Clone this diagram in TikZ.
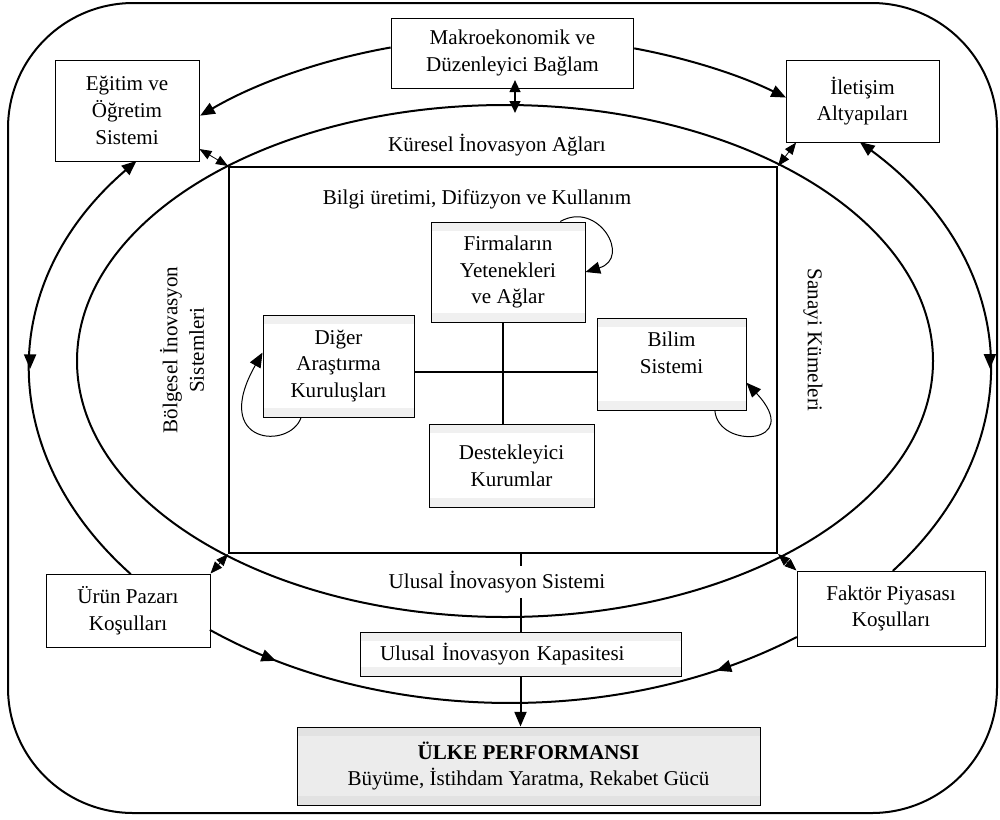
\documentclass[tikz,border=0pt]{standalone}
\usepackage{fontspec}
\setmainfont{Liberation Serif}
\usetikzlibrary{arrows.meta,decorations.markings}
\definecolor{bandgray}{HTML}{F0F0F0}
\definecolor{ulkegray}{HTML}{ECECEC}
\definecolor{ulkeband}{HTML}{E2E2E2}
\tikzset{every picture/.style={line width=0.75pt}}
\tikzset{
  >={Triangle[length=11pt,width=9pt]},
  txt/.style={font=\fontsize{15.8}{20}\selectfont, align=center, inner sep=0.75pt},
  box/.style={txt, draw, fill=white},
  bands/.style={path picture={
      \fill[#1] ([yshift=6.5pt]path picture bounding box.north west) rectangle ([yshift=-6.5pt]path picture bounding box.north east);
      \fill[#1] ([yshift=6.5pt]path picture bounding box.south west) rectangle ([yshift=-6.5pt]path picture bounding box.south east);}},
  inbox/.style={box, bands=bandgray},
  ring/.style={line width=1.5pt},
  link/.style={line width=0.6pt, arrows={Triangle[length=9pt,width=7pt]-Triangle[length=9pt,width=7pt]}},
  midarrow/.style={postaction={decorate, decoration={markings, mark=at position #1 with {\arrow{>}}}}},
  midarrowback/.style={postaction={decorate, decoration={markings, mark=at position #1 with {\arrowreversed{>}}}}},
}

\begin{document}
\begin{tikzpicture}[x=0.75pt,y=0.75pt,yscale=-1,xscale=1]
\useasboundingbox (0,0) rectangle (1000,819);

%Outer frame
\draw[ring, rounded corners=94pt] (8,3) rectangle (997,813);
%Inner ring
\draw[ring] (505,361) ellipse [x radius=428, y radius=256];

%Outer boxes
\node[box, minimum width=182pt, minimum height=52.5pt] (makro) at (512.5,53) {Makroekonomik ve\\Düzenleyici Bağlam};
\node[box, minimum width=108pt, minimum height=75.75pt] (egitim) at (127,110.5) {Eğitim ve\\Öğretim\\Sistemi};
\node[box, minimum width=114.75pt, minimum height=61.5pt] (iletisim) at (862.5,101) {İletişim\\Altyapıları};
\node[box, minimum width=123pt, minimum height=54.75pt] (urun) at (128,610.5) {Ürün Pazarı\\Koşulları};
\node[box, minimum width=141pt, minimum height=56.25pt] (faktor) at (891,608.5) {Faktör Piyasası\\Koşulları};
\node[inbox, minimum height=33pt, text width=210.75pt, inner xsep=15pt, align=left] (kapasite) at (520.5,654) {Ulusal İnovasyon Kapasitesi};
\node[box, fill=ulkegray, bands=ulkeband, minimum width=347.25pt, minimum height=58.5pt] (ulke) at (528.5,766) {\textbf{ÜLKE PERFORMANSI}\\Büyüme, İstihdam Yaratma, Rekabet Gücü};

%National system frame
\node[draw, line width=1.5pt, minimum width=411pt, minimum height=289.5pt, inner sep=0pt] (nis) at (503,360) {};

%Inner boxes
\node[inbox, minimum width=115.5pt, minimum height=75pt] (firma) at (508,272) {Firmaların\\Yetenekleri\\ve Ağlar};
\node[inbox, minimum width=113.25pt, minimum height=76.5pt] (diger) at (338.5,366) {Diğer\\Araştırma\\Kuruluşları};
\node[inbox, minimum width=111.75pt, minimum height=69pt, text depth=17pt] (bilim) at (671.5,364) {Bilim\\Sistemi};
\node[inbox, minimum width=123.75pt, minimum height=62.25pt] (destek) at (511.5,465.5) {Destekleyici\\Kurumlar};

%Cross
\coordinate (x0) at (503,372);
\draw[line width=1.5pt] (x0 |- firma.south) -- (x0 |- destek.north);
\draw[line width=1.5pt] (diger.east |- x0) -- (bilim.west |- x0);

%Self loops
\draw[->] (firma.44) .. controls (598,200) and (632,258) .. (firma.east);
\draw[->] (diger.-126) .. controls (290,450) and (210,445) .. (diger.170);
\draw[->] (bilim.-47) .. controls (718,450) and (805,445) .. (bilim.-14);

%Outer ring
\draw[ring, ->] ([shift={(510,370)}]255.6:480 and 333) arc[start angle=255.6, end angle=229.8, x radius=480, y radius=333];
\draw[ring, ->] ([shift={(510,370)}]285.0:480 and 333) arc[start angle=285.0, end angle=305.1, x radius=480, y radius=333];
\draw[ring, <-, midarrow=0.506] ([shift={(510,370)}]218.9:480 and 333) arc[start angle=218.9, end angle=142.2, x radius=480, y radius=333];
\draw[ring, <-, midarrow=0.54] ([shift={(510,370)}]-43.2:480 and 333) arc[start angle=-43.2, end angle=37.1, x radius=480, y radius=333];
\draw[ring, midarrow=0.12, midarrowback=0.857] ([shift={(510,370)}]128.7:480 and 333) arc[start angle=128.7, end angle=53.3, x radius=480, y radius=333];

%Links
\coordinate (kup) at (515,80);
\coordinate (kdown) at (515,113);
\draw[ring, arrows={Triangle[length=9pt,width=8pt]-Triangle[length=9pt,width=8pt]}] (kup) -- (kdown);
\draw[link] (nis.north west) -- (egitim.-28);
\draw[link] (nis.north east) -- (iletisim.212);
\draw[link] (nis.south west) -- (urun.north east);
\draw[link] (nis.south east) -- (faktor.north west);
\draw[ring] (kapasite.north |- nis.south) -- (kapasite.north);
\draw[ring, ->] (kapasite.south) -- (kapasite.south |- ulke.north);

%Labels
\node[txt] (kia) at (497,145) {Küresel İnovasyon Ağları};
\node[txt] (bdk) at (477,199) {Bilgi üretimi, Difüzyon ve Kullanım};
\node[txt, rotate=90] (bis) at (182,350) {Bölgesel İnovasyon\\Sistemleri};
\node[txt, rotate=-90] (sk) at (813,340) {Sanayi Kümeleri};
\node[txt, fill=white, inner ysep=4pt] (uis) at (497,582) {Ulusal İnovasyon Sistemi};
\end{tikzpicture}
\end{document}
